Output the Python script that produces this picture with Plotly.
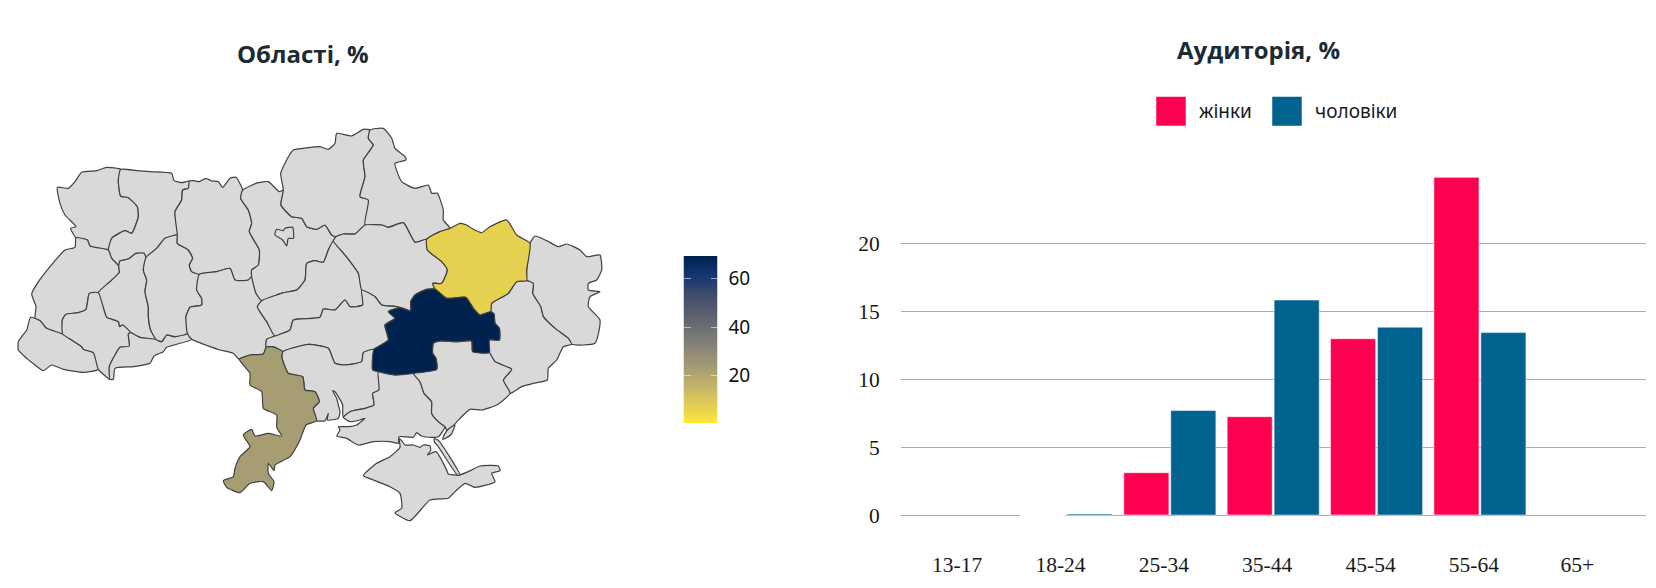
import numpy as np
import plotly.graph_objects as go
from plotly.colors import sample_colorscale

# ---------- bar chart data ----------
age_groups = ["13-17", "18-24", "25-34", "35-44", "45-54", "55-64", "65+"]
women = [None, 0, 3.12, 7.25, 13.0, 24.9, None]
men = [None, 0.08, 7.7, 15.85, 13.85, 13.45, None]
bar_ticks = [0, 5, 10, 15, 20]

# ---------- map data: oblast values (only three are reported) ----------
shares = {"Дніпропетровська": 69.2, "Одеська": 23.0, "Харківська": 7.0}
scale_min, scale_max = 0.6, 69.2
scale_ticks = [20, 40, 60]

# map outlines, shared borders kept once each (map units)
volyn_west = [(228,713),(212,685),(228,680),(195,645),(180,610),(172,562),(205,565),(225,545),(245,517),(290,512),(320,502),(362,508)]
volyn_rivne = [(362,508),(355,540),(362,588),(385,593),(412,620),(415,650),(395,700),(375,692),(335,715),(325,750)]
volyn_lviv = [(325,750),(270,738),(262,720),(228,713)]
rivne_top = [(362,508),(410,512),(450,515),(515,520),(522,542),(545,548),(568,543)]
rivne_zhyt = [(568,543),(565,565),(548,570),(545,600),(525,635),(532,705)]
rivne_khm = [(532,705),(495,715),(470,745),(438,772)]
rivne_tern = [(438,772),(432,760),(408,760),(385,777),(360,783),(356,798)]
rivne_lviv = [(356,798),(335,775),(325,750)]
lviv_west = [(228,713),(225,742),(195,750),(150,800),(112,850),(95,882),(108,920),(105,955),(120,962)]
lviv_zak = [(120,962),(140,985),(188,1002)]
lviv_if = [(188,1002),(187,960),(198,943),(235,938),(258,928),(268,880),(295,878)]
lviv_tern = [(295,878),(330,845),(358,817),(356,798)]
tern_if = [(295,878),(312,930),(320,952),(355,965),(358,980),(368,975),(392,998)]
tern_cher = [(392,998),(420,1012),(468,1018)]
tern_khm = [(468,1018),(452,990),(445,950),(445,920),(435,875),(440,840),(430,810),(438,772)]
zak_north = [(120,962),(92,952),(80,990),(55,1025),(55,1050),(80,1075),(105,1095),(130,1112),(155,1095),(190,1108),(250,1117),(295,1108)]
zak_if = [(188,1002),(215,1020),(245,1040),(250,1048),(280,1058),(295,1108)]
if_south = [(295,1108),(330,1138)]
if_cher = [(330,1138),(328,1100),(345,1065),(360,1042),(388,1038),(385,1002),(392,998)]
cher_south = [(330,1138),(340,1138),(345,1105),(400,1100),(450,1090),(462,1068),(490,1055),(500,1042),(575,1018)]
cher_khm = [(468,1018),(485,1025),(500,1005),(525,1010),(562,1000)]
cher_vinn = [(562,1000),(575,1018)]
khm_zh = [(532,705),(532,730),(565,750),(578,775),(568,795),(575,815),(598,823)]
khm_vinn = [(598,823),(590,870),(605,895),(605,915),(570,922),(558,950),(562,1000)]
zh_top = [(568,543),(582,542),(598,545),(618,535),(635,543),(655,545),(668,562),(690,535),(708,532),(728,570)]
zh_kyiv = [(728,570),(722,595),(745,630),(755,670),(748,695),(778,750),(775,795),(755,810),(755,830)]
zh_vinn = [(598,823),(650,815),(690,805),(705,840),(745,840),(755,830)]
kyiv_vinn = [(755,830),(768,880),(785,902)]
vinn_cherk = [(785,902),(772,920),(800,965),(825,1008)]
vinn_kirov = [(825,1008),(800,1018),(798,1042)]
vinn_odesa = [(798,1042),(790,1062),(750,1065),(718,1078)]
vinn_south = [(575,1018),(630,1040),(660,1050),(700,1060),(718,1078)]
kyiv_top = [(728,570),(775,548),(805,545),(838,575),(850,570)]
kyiv_chern = [(850,570),(843,615),(875,650),(905,655),(920,680),(950,688),(975,675),(995,705),(1008,710)]
kyiv_polt = [(1008,710),(1000,723)]
kyiv_cherk = [(785,902),(830,885),(850,878),(890,870),(915,840),(920,790),(945,782),(970,787),(985,750),(1000,723)]
cherk_polt = [(1000,723),(1035,765),(1075,820),(1085,870)]
cherk_kirov = [(825,1008),(870,990),(880,960),(960,952),(970,927),(1005,930),(1035,900),(1050,920),(1088,915),(1085,870)]
chern_top = [(850,570),(842,520),(860,480),(875,455),(880,450),(960,440),(985,448),(1005,430),(1010,400),(1055,408),(1090,388),(1110,390)]
chern_sumy = [(1110,390),(1105,415),(1120,435),(1090,480),(1095,530),(1080,590),(1105,600),(1095,675)]
chern_polt = [(1008,710),(1030,702),(1065,702),(1095,675)]
sumy_north = [(1110,390),(1150,385),(1175,415),(1185,445),(1215,470),(1218,480),(1185,490),(1205,545),(1245,565),(1285,555),(1295,580),(1312,580),(1330,630),(1330,660),(1350,685)]
sumy_polt = [(1095,675),(1145,675),(1165,682),(1210,668),(1245,727),(1280,718)]
sumy_khar = [(1350,685),(1320,695),(1280,718)]
polt_khar = [(1280,718),(1282,750),(1325,785),(1342,810),(1325,850),(1298,850),(1305,867)]
polt_kirov = [(1085,870),(1125,890),(1145,915),(1190,920),(1232,933)]
polt_dnipro = [(1232,933),(1232,905),(1245,885),(1280,868),(1305,867)]
khar_north = [(1350,685),(1380,670),(1400,675),(1420,688),(1445,698),(1470,680),(1520,660),(1550,705),(1590,730)]
khar_luh = [(1590,730),(1580,810),(1580,842)]
khar_don = [(1580,842),(1550,845),(1525,880),(1475,910),(1472,935)]
khar_dnipro = [(1305,867),(1340,895),(1397,892),(1420,925),(1440,945),(1472,935)]
luh_east = [(1590,730),(1605,708),(1640,722),(1675,740),(1700,732),(1740,750),(1760,770),(1800,765),(1805,810),(1790,840),(1765,850),(1765,870),(1800,875),(1770,890),(1765,920),(1800,960),(1785,1030),(1715,1033)]
luh_don = [(1580,842),(1600,850),(1598,880),(1622,920),(1630,950),(1665,985),(1705,1015),(1715,1033)]
don_south = [(1715,1033),(1690,1040),(1670,1080),(1645,1105),(1642,1140),(1600,1150),(1565,1160),(1530,1180)]
don_dnipro = [(1472,935),(1482,942),(1485,970),(1498,985),(1498,1020),(1468,1020),(1468,1058)]
don_zap = [(1468,1058),(1485,1085),(1535,1108),(1510,1140),(1530,1180)]
dnipro_zap = [(1468,1058),(1418,1055),(1415,1023),(1370,1025),(1320,1023),(1300,1030),(1298,1060),(1308,1075),(1310,1108),(1240,1120)]
dnipro_kh = [(1240,1120),(1185,1125),(1135,1115)]
dnipro_myk = [(1135,1115),(1118,1110),(1122,1048)]
dnipro_kirov = [(1232,933),(1200,923),(1165,935),(1185,955),(1155,975),(1165,1020),(1122,1048)]
kirov_odesa = [(798,1042),(810,1040),(825,1042),(848,1055)]
kirov_myk = [(848,1055),(925,1033),(985,1045),(1005,1090),(1035,1095),(1085,1085),(1090,1058),(1122,1048)]
odesa_myk = [(848,1055),(845,1070),(865,1120),(908,1130),(915,1170),(945,1175),(958,1205),(940,1225),(950,1262)]
odesa_sea = [(718,1078),(750,1120),(750,1155),(785,1175),(790,1225),(830,1245),(830,1282),(845,1308),(805,1300),(765,1308),(755,1288),(730,1305),(750,1340),(720,1370),(705,1405),(700,1430),(670,1442),(680,1462),(720,1478),(750,1450),(790,1445),(815,1472),(822,1445),(805,1420),(805,1390),(822,1412),(825,1395),(870,1370),(900,1320),(918,1275),(950,1262)]
myk_coast = [(950,1262),(975,1262),(985,1240),(982,1260),(1015,1255),(1020,1235),(1015,1215),(1010,1195),(998,1172),(1005,1175),(1018,1195),(1028,1215),(1028,1230),(1030,1252)]
myk_kh = [(1135,1115),(1137,1170),(1118,1180),(1122,1215),(1095,1225),(1050,1235),(1030,1252)]
kh_zap = [(1240,1120),(1260,1145),(1272,1180),(1295,1205),(1295,1240),(1315,1265),(1335,1280)]
zap_coast = [(1530,1180),(1490,1215),(1445,1230),(1410,1228),(1380,1255),(1362,1275),(1345,1300),(1335,1280)]
kh_coast = [(1030,1252),(1050,1265),(1080,1260),(1095,1255),(1070,1275),(1045,1280),(1015,1280),(1020,1290),(1010,1308),(1040,1315),(1075,1335),(1120,1325),(1170,1325),(1195,1330),(1197,1310),(1240,1312),(1250,1298),(1265,1308),(1295,1312),(1315,1310),(1335,1280)]
crimea = [(1200,1342),(1197,1315),(1205,1322),(1215,1335),(1240,1335),(1260,1342),(1270,1335),(1290,1338),(1292,1352),(1282,1365),(1308,1355),(1340,1410),(1345,1422),(1378,1425),(1415,1410),(1440,1398),(1495,1398),(1500,1412),(1475,1420),(1485,1445),(1425,1462),(1395,1450),(1360,1480),(1345,1495),(1290,1500),(1230,1562),(1185,1538),(1205,1525),(1200,1480),(1170,1460),(1120,1440),(1090,1427),(1130,1390),(1170,1370),(1200,1342)]
arabat_spit = [(1303,1316),(1316,1322),(1380,1425),(1373,1426),(1312,1336),(1303,1326),(1303,1316)]
fedotova_spit = [(1365,1275),(1352,1305),(1328,1318),(1335,1300),(1348,1285),(1365,1275)]
kyiv_city = [(825,700),(830,688),(850,692),(855,685),(878,682),(880,715),(865,715),(860,738),(848,720),(825,705),(825,700)]

# each oblast as a ring of shared borders; r() walks a border backwards
def r(arc):
    return arc[::-1]

oblasts = {
    "Волинська": [volyn_west, volyn_rivne, volyn_lviv],
    "Рівненська": [rivne_top, rivne_zhyt, rivne_khm, rivne_tern, rivne_lviv, r(volyn_rivne)],
    "Львівська": [lviv_west, lviv_zak, lviv_if, lviv_tern, rivne_lviv, volyn_lviv],
    "Тернопільська": [tern_if, tern_cher, tern_khm, rivne_tern, r(lviv_tern)],
    "Закарпатська": [zak_north, r(zak_if), r(lviv_zak)],
    "Івано-Франківська": [r(lviv_if), zak_if, if_south, if_cher, r(tern_if)],
    "Чернівецька": [r(if_cher), cher_south, r(cher_vinn), r(cher_khm), r(tern_cher)],
    "Хмельницька": [khm_zh, khm_vinn, r(cher_khm), tern_khm, r(rivne_khm)],
    "Житомирська": [zh_top, zh_kyiv, r(zh_vinn), r(khm_zh), r(rivne_zhyt)],
    "Вінницька": [zh_vinn, kyiv_vinn, vinn_cherk, vinn_kirov, vinn_odesa, r(vinn_south), r(cher_vinn), r(khm_vinn)],
    "Київська": [kyiv_top, kyiv_chern, kyiv_polt, r(kyiv_cherk), r(kyiv_vinn), r(zh_kyiv)],
    "Черкаська": [kyiv_cherk, cherk_polt, r(cherk_kirov), r(vinn_cherk)],
    "Чернігівська": [chern_top, chern_sumy, r(chern_polt), r(kyiv_chern)],
    "Сумська": [sumy_north, sumy_khar, r(sumy_polt), r(chern_sumy)],
    "Полтавська": [sumy_polt, polt_khar, r(polt_dnipro), r(polt_kirov), r(cherk_polt), r(kyiv_polt), chern_polt],
    "Луганська": [luh_east, r(luh_don), r(khar_luh)],
    "Донецька": [luh_don, don_south, r(don_zap), r(don_dnipro), r(khar_don)],
    "Кіровоградська": [cherk_kirov, polt_kirov, dnipro_kirov, r(kirov_myk), r(kirov_odesa), r(vinn_kirov)],
    "Миколаївська": [kirov_myk, r(dnipro_myk), myk_kh, r(myk_coast), r(odesa_myk)],
    "Херсонська": [r(dnipro_kh), kh_zap, r(kh_coast), r(myk_kh)],
    "Запорізька": [r(dnipro_zap), don_zap, zap_coast, r(kh_zap)],
    "Крим": [crimea],
    "Арабатська стрілка": [arabat_spit],
    "Федотова коса": [fedotova_spit],
    "Київ": [kyiv_city],
    "Одеська": [kirov_odesa, odesa_myk, r(odesa_sea), r(vinn_odesa)],
    "Харківська": [khar_north, khar_luh, khar_don, r(khar_dnipro), r(polt_khar), r(sumy_khar)],
    "Дніпропетровська": [polt_dnipro, khar_dnipro, don_dnipro, dnipro_zap, dnipro_kh, dnipro_myk, r(dnipro_kirov)],
}

# ---------- styles ----------
W, H = 1656, 588
GRAY = "#d9d9d9"
EDGE = "#404040"
PINK = "#ff0050"
BLUE = "#00628f"
GRID = "#a9a9bd"
TITLE = "#1c2b33"
SANS = "Noto Sans, sans-serif"
SERIF = "Liberation Serif, serif"
MAP_UNITS_W, MAP_UNITS_H = 1920, 1764

def px_x(p):
    return p / W

def px_y(p):
    return 1 - p / H

fig = go.Figure()

for name, rings in oblasts.items():
    pts = []
    for ring in rings:
        pts.extend(ring if not pts else ring[1:])
    value = shares.get(name)
    if value is None:
        color = GRAY
    else:
        t = (value - scale_min) / (scale_max - scale_min)
        color = sample_colorscale("cividis_r", [t])[0]
    fig.add_trace(go.Scatter(
        x=[p[0] for p in pts], y=[p[1] for p in pts], mode="lines", fill="toself",
        fillcolor=color, line=dict(color=EDGE, width=1.2, shape="spline", smoothing=0.5), name=name,
        xaxis="x", yaxis="y", showlegend=False,
        hoverinfo="text", text=name,
    ))

colour_ramp = np.linspace(scale_min, scale_max, 160).tolist()
fig.add_trace(go.Heatmap(
    x=[0], y=colour_ramp, z=[[v] for v in colour_ramp], colorscale="cividis_r",
    zmin=scale_min, zmax=scale_max, showscale=False, xaxis="x3", yaxis="y3",
))

women_lines = ["rgba(255,255,255,1)" if v == 0 else "rgba(255,255,255,0.55)" for v in [x if x is not None else 1 for x in women]]
women_widths = [2 if v == 0 else 1 for v in [x if x is not None else 1 for x in women]]
fig.add_trace(go.Bar(
    x=age_groups, y=women, name="жінки", xaxis="x2", yaxis="y2", showlegend=False,
    marker=dict(color=PINK, line=dict(color=women_lines, width=women_widths)),
))
fig.add_trace(go.Bar(
    x=age_groups, y=men, name="чоловіки", xaxis="x2", yaxis="y2", showlegend=False,
    marker=dict(color=BLUE, line=dict(color="rgba(255,255,255,0.5)", width=1)),
))

# value 0 sits 515 px down the page, one value unit is 13.56 px
y_low, y_high = -1, 26
unit = 13.56
y2_bottom = 515 + (0 - y_low) * unit
y2_top = 515 - y_high * unit

shapes = []
annotations = []
for left, color, label, text_x in [(1156, PINK, "жінки", 1197), (1272, BLUE, "чоловіки", 1313)]:
    shapes.append(dict(type="rect", xref="paper", yref="paper",
                       x0=px_x(left), x1=px_x(left + 30), y0=px_y(126), y1=px_y(96.5),
                       fillcolor=color, line=dict(color="rgba(255,255,255,0.5)", width=1)))
    annotations.append(dict(text=label, xref="paper", yref="paper", x=px_x(text_x), y=px_y(111),
                            xanchor="left", yanchor="middle", showarrow=False,
                            font=dict(family=SANS, size=19, color="#1a1a1a")))
for text, cx, cy in [("Області, %", 303, 54), ("Аудиторія, %", 1258, 50)]:
    annotations.append(dict(text=f"<b>{text}</b>", xref="paper", yref="paper", x=px_x(cx), y=px_y(cy),
                            xanchor="center", yanchor="middle", showarrow=False,
                            font=dict(family="Open Sans, sans-serif", size=24, color=TITLE)))

fig.update_layout(
    width=W, height=H, margin=dict(l=0, r=0, t=0, b=0), autosize=False,
    paper_bgcolor="white", plot_bgcolor="white", showlegend=False,
    barmode="group", bargap=0.091, bargroupgap=0.04,
    shapes=shapes, annotations=annotations,
    xaxis=dict(domain=[0, px_x(640)], range=[0, MAP_UNITS_W], visible=False, anchor="y"),
    yaxis=dict(domain=[0, 1], range=[MAP_UNITS_H, 0], visible=False, anchor="x"),
    xaxis2=dict(domain=[px_x(900.7), px_x(1645.7)], range=[-0.604, 6.604], type="category",
                categoryorder="array", categoryarray=age_groups, anchor="y2",
                showgrid=False, zeroline=False, showline=False, ticks="",
                tickfont=dict(family=SERIF, size=21.5, color="#1a1a1a"),
                ticklabelshift=-6, ticklabelstandoff=21),
    yaxis2=dict(domain=[px_y(y2_bottom), px_y(y2_top)], range=[y_low, y_high], anchor="x2",
                tickvals=bar_ticks, showgrid=True, gridcolor=GRID, gridwidth=1,
                zeroline=False, showline=False, ticks="",
                tickfont=dict(family=SERIF, size=21.5, color="#1a1a1a"), ticklabelstandoff=20),
    xaxis3=dict(domain=[px_x(683.5), px_x(717.5)], visible=False, anchor="y3"),
    yaxis3=dict(domain=[px_y(423), px_y(256)], range=[scale_min, scale_max], anchor="x3", side="right",
                tickvals=scale_ticks, ticks="inside", ticklen=7, tickwidth=1,
                tickcolor="rgba(255,255,255,0.55)", mirror="ticks", showgrid=False, zeroline=False,
                showline=False, tickfont=dict(family=SANS, size=19, color="#111111"),
                ticklabelstandoff=10),
)

fig.write_html("out.html", config=dict(displayModeBar=False),
               post_script="document.body.style.margin='0';document.body.style.overflow='hidden';")
